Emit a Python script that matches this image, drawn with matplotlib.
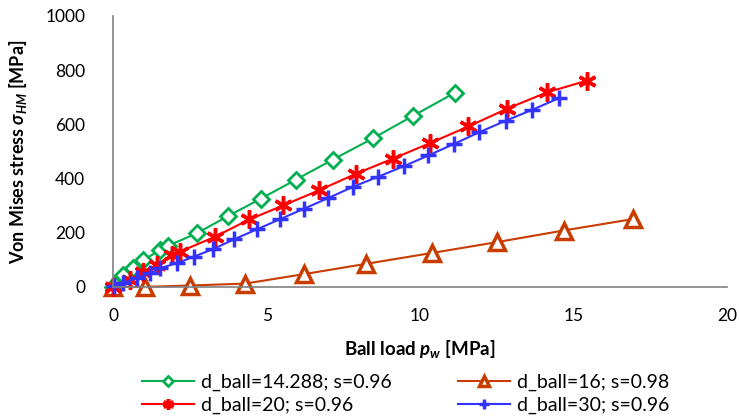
import matplotlib
matplotlib.use("Agg")
import matplotlib.pyplot as plt

plt.rcParams['font.family'] = ['Lato', 'DejaVu Sans']
plt.rcParams['mathtext.fontset'] = 'custom'
plt.rcParams['mathtext.it'] = 'Lato:bold:italic'
plt.rcParams['mathtext.rm'] = 'Lato:bold'

# d_ball=14.288; s=0.96
x_green = [0, 0.05, 0.33, 0.66, 0.99, 1.53, 1.80, 2.73, 3.74, 4.82, 5.96, 7.16, 8.46, 9.78, 11.14]
y_green = [0, 7, 44, 69, 99, 136, 152, 198, 261, 326, 396, 470, 548, 632, 717]

# d_ball=16; s=0.98
x_orange = [0, 1.04, 2.51, 4.30, 6.22, 8.24, 10.38, 12.50, 14.67, 16.92]
y_orange = [0, 0, 5, 12, 47, 85, 125, 165, 208, 250]

# d_ball=20; s=0.96
x_red = [0, 0.55, 0.98, 1.42, 1.91, 2.18, 3.32, 4.44, 5.55, 6.72, 7.92, 9.11, 10.33, 11.57, 12.82, 14.13, 15.43]
y_red = [1, 26, 56, 81, 118, 130, 185, 249, 301, 357, 418, 473, 531, 592, 657, 718, 761]

# d_ball=30; s=0.96
x_blue = [0.04, 0.33, 0.77, 1.21, 1.53, 2.07, 2.62, 3.25, 3.95, 4.70, 5.44, 6.23, 7.01, 7.81, 8.62,
          9.46, 10.27, 11.11, 11.93, 12.80, 13.64, 14.51]
y_blue = [5, 15, 32, 50, 69, 87, 111, 139, 176, 213, 250, 289, 328, 369, 406,
          445, 485, 528, 571, 614, 653, 696]

fig = plt.figure(figsize=(7.39, 4.20), dpi=100)
ax = fig.add_axes([0.153, 0.317, 0.831, 0.645])

g, = ax.plot(x_green, y_green, color='#00B050', lw=1.5, marker='D', ms=8, mfc='white',
             mew=2, label='d_ball=14.288; s=0.96')
o, = ax.plot(x_orange, y_orange, color='#C83C00', lw=1.5, marker='^', ms=11, mfc='white',
             mew=2.5, label='d_ball=16; s=0.98')
r, = ax.plot(x_red, y_red, color='#FF0000', lw=1.5, marker=(6, 2, 0), ms=13,
             mew=2.5, label='d_ball=20; s=0.96')
b, = ax.plot(x_blue, y_blue, color='#3333FF', lw=1.5, marker='+', ms=11,
             mew=2.5, label='d_ball=30; s=0.96')
for line in ax.lines:
    line.set_clip_on(False)

ax.set_xlim(0, 20)
ax.set_ylim(0, 1000)
ax.set_xticks([0, 5, 10, 15, 20])
ax.set_yticks([0, 200, 400, 600, 800, 1000])
ax.tick_params(length=0, labelsize=12.5)
ax.tick_params(axis='x', pad=15)
ax.tick_params(axis='y', pad=20)
for s in ['top', 'right']:
    ax.spines[s].set_visible(False)
for s in ['left', 'bottom']:
    ax.spines[s].set_color('#808080')
    ax.spines[s].set_linewidth(1.2)

ax.set_xlabel(r'Ball load $p_w$ [MPa]', fontsize=13.5, fontweight='bold', labelpad=10)
ax.set_ylabel(r'Von Mises stress $\sigma_{HM}$ [MPa]', fontsize=13, fontweight='bold', labelpad=12)

ax.legend([g, r, o, b], [g.get_label(), r.get_label(), o.get_label(), b.get_label()],
          loc='upper left', bbox_to_anchor=(0.018, -0.255), ncol=2, frameon=False,
          fontsize=14, columnspacing=3.4, handlelength=2.7, labelspacing=0.32,
          handletextpad=0.35, markerscale=0.6)

fig.savefig('out.png', dpi=100)
